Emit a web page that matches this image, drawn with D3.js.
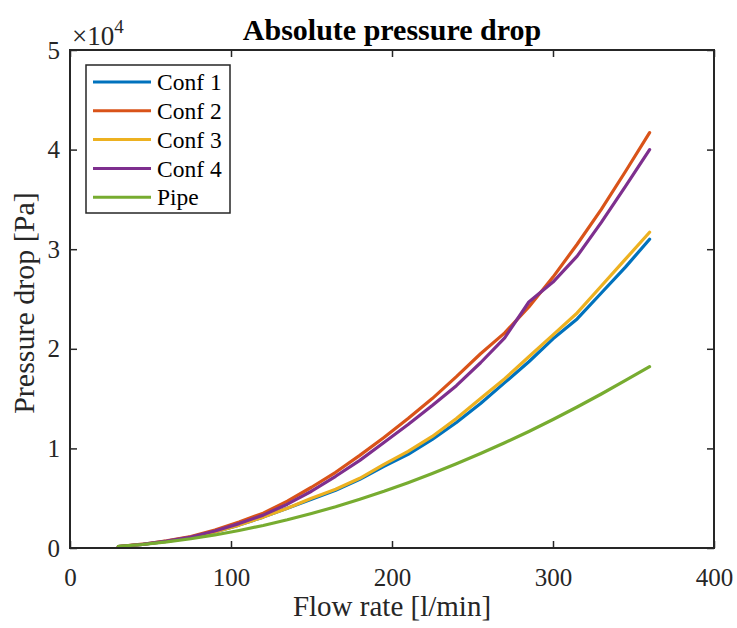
<!DOCTYPE html>
<html>
<head>
<meta charset="utf-8">
<script src="https://cdn.jsdelivr.net/npm/d3@7"></script>
<style>
  body { margin: 0; background: #fff; }
  svg { display: block; }
</style>
</head>
<body>
<svg id="chart" width="737" height="628"></svg>
<script>
// flow rate samples [l/min]
var flowRate = [30, 45, 60, 75, 90, 105, 120, 135, 150, 165, 180, 195, 210, 225, 240, 255, 270, 285, 300, 315, 330, 345, 360];

// pressure drop [Pa]
var conf1 = [150, 350, 650, 1050, 1600, 2300, 3100, 4000, 4900, 5800, 6900, 8200, 9400, 10900, 12600, 14500, 16600, 18700, 21000, 23000, 25600, 28200, 31000];
var conf2 = [150, 380, 720, 1150, 1800, 2600, 3500, 4700, 6100, 7600, 9300, 11100, 13000, 15000, 17200, 19500, 21600, 24200, 27200, 30500, 34000, 37800, 41700];
var conf3 = [150, 350, 650, 1050, 1600, 2300, 3100, 4000, 5000, 5900, 7000, 8400, 9700, 11200, 13000, 15000, 17000, 19200, 21400, 23600, 26300, 29000, 31700];
var conf4 = [150, 370, 700, 1100, 1700, 2450, 3300, 4400, 5700, 7200, 8800, 10600, 12400, 14300, 16300, 18600, 21100, 24700, 26700, 29300, 32700, 36300, 40000];
var pipe = [160, 350, 610, 930, 1310, 1760, 2260, 2830, 3460, 4140, 4890, 5690, 6550, 7470, 8450, 9480, 10560, 11700, 12900, 14160, 15460, 16820, 18200];

var seriesNames = ["Conf 1", "Conf 2", "Conf 3", "Conf 4", "Pipe"];
var seriesValues = [conf1, conf2, conf3, conf4, pipe];
var seriesColors = ["#0072BD", "#D95319", "#EDB120", "#7E2F8E", "#77AC30"];

var xTicks = [0, 100, 200, 300, 400];
var yTicks = [0, 10000, 20000, 30000, 40000, 50000];

var serif = "'Liberation Serif', 'Times New Roman', serif";
var ink = "#262626";

var margin = {top: 50, right: 23, bottom: 80, left: 70};
var width = 737 - margin.left - margin.right,
    height = 628 - margin.top - margin.bottom;

var svg = d3.select("#chart");
var g = svg.append("g")
    .attr("transform", "translate(" + margin.left + "," + margin.top + ")");

var x = d3.scaleLinear().domain([0, 400]).range([0, width]);
var y = d3.scaleLinear().domain([0, 50000]).range([height, 0]);

var line = d3.line()
    .x(function(d) { return x(d[0]); })
    .y(function(d) { return y(d[1]); });

// series lines
seriesValues.forEach(function(vals, i) {
    var pts = flowRate.map(function(f, j) { return [f, vals[j]]; });
    g.append("path")
        .datum(pts)
        .attr("fill", "none")
        .attr("stroke", seriesColors[i])
        .attr("stroke-width", 3.2)
        .attr("stroke-linejoin", "round")
        .attr("stroke-linecap", "round")
        .attr("d", line);
});

var style_axis = function(sel, size) {
    sel.attr("font-family", serif).attr("font-size", size);
    sel.select(".domain").remove();
    sel.selectAll(".tick line").attr("stroke", ink).attr("stroke-width", 1.5);
    sel.selectAll(".tick text").attr("fill", ink);
};

g.append("g")
    .attr("transform", "translate(0," + height + ")")
    .call(d3.axisBottom(x).tickValues(xTicks).tickSize(-7).tickPadding(20))
    .call(style_axis, 25);

g.append("g")
    .call(d3.axisTop(x).tickValues(xTicks).tickSize(-7).tickFormat(""))
    .call(style_axis, 25);

g.append("g")
    .call(d3.axisLeft(y).tickValues(yTicks).tickSize(-7).tickPadding(10)
        .tickFormat(function(d) { return d / 10000; }))
    .call(style_axis, 25);

g.append("g")
    .attr("transform", "translate(" + width + ",0)")
    .call(d3.axisRight(y).tickValues(yTicks).tickSize(-7).tickFormat(""))
    .call(style_axis, 25);

// box
g.append("rect")
    .attr("width", width)
    .attr("height", height)
    .attr("fill", "none")
    .attr("stroke", ink)
    .attr("stroke-width", 2);

// exponent
var expo = svg.append("text")
    .attr("x", 72)
    .attr("y", 45)
    .attr("font-family", serif)
    .attr("font-size", 27)
    .attr("fill", ink)
    .text("\u00d710");
expo.append("tspan")
    .attr("font-size", 19)
    .attr("dy", -12)
    .text("4");

// title and labels
svg.append("text")
    .attr("x", margin.left + width / 2)
    .attr("y", 40)
    .attr("text-anchor", "middle")
    .attr("font-family", serif)
    .attr("font-size", 30)
    .attr("font-weight", "bold")
    .attr("fill", "#000")
    .text("Absolute pressure drop");

svg.append("text")
    .attr("x", margin.left + width / 2)
    .attr("y", 616)
    .attr("text-anchor", "middle")
    .attr("font-family", serif)
    .attr("font-size", 29)
    .attr("fill", ink)
    .text("Flow rate [l/min]");

svg.append("text")
    .attr("transform", "translate(34,303) rotate(-90)")
    .attr("text-anchor", "middle")
    .attr("font-family", serif)
    .attr("font-size", 30)
    .attr("fill", ink)
    .text("Pressure drop [Pa]");

// legend
var legend = svg.append("g").attr("transform", "translate(86,65)");
legend.append("rect")
    .attr("width", 144)
    .attr("height", 148)
    .attr("fill", "#fff")
    .attr("stroke", ink)
    .attr("stroke-width", 1.5);

var item = legend.selectAll(".item")
    .data(seriesNames)
    .enter().append("g")
    .attr("class", "item")
    .attr("transform", function(d, i) { return "translate(0," + (17 + i * 28.8) + ")"; });

item.append("line")
    .attr("x1", 7)
    .attr("x2", 65)
    .attr("stroke", function(d, i) { return seriesColors[i]; })
    .attr("stroke-width", 3);

item.append("text")
    .attr("x", 71)
    .attr("dy", "0.35em")
    .attr("font-family", serif)
    .attr("font-size", 23.5)
    .attr("fill", "#000")
    .text(function(d) { return d; });
</script>
</body>
</html>
